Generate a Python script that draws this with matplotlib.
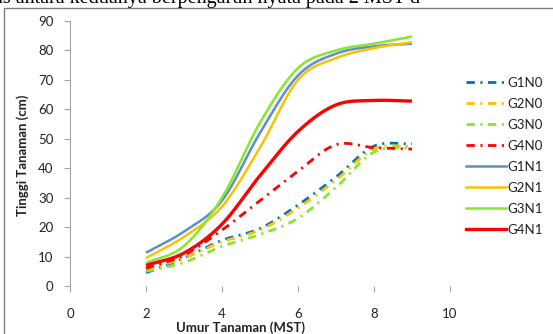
import numpy as np
import matplotlib
matplotlib.use("Agg")
import matplotlib.pyplot as plt
from matplotlib.lines import Line2D
from matplotlib.patches import Rectangle

plt.rcParams['font.family'] = ['Lato', 'DejaVu Sans']
plt.rcParams['lines.scale_dashes'] = False

weeks = [2, 3, 4, 5, 6, 7, 8, 9]
series_names = ["G1N0", "G2N0", "G3N0", "G4N0", "G1N1", "G2N1", "G3N1", "G4N1"]
G1N0 = [4.5, 9.5, 15.5, 19.5, 27.5, 37.0, 47.5, 48.3]
G2N0 = [5.5, 9.5, 15.0, 19.0, 26.5, 36.0, 46.5, 47.5]
G3N0 = [5.0, 8.0, 13.5, 17.5, 23.0, 33.5, 45.5, 47.0]
G4N0 = [6.0, 10.5, 19.0, 29.0, 39.0, 48.0, 47.0, 46.5]
G1N1 = [11.3, 18.5, 29.0, 52.0, 71.5, 78.9, 81.4, 82.3]
G2N1 = [9.5, 16.7, 27.0, 47.0, 70.0, 77.4, 80.8, 82.8]
G3N1 = [7.8, 13.6, 30.0, 55.5, 74.0, 80.0, 82.3, 84.7]
G4N1 = [7.0, 11.2, 21.0, 37.5, 52.5, 61.5, 63.0, 62.8]
values = [G1N0, G2N0, G3N0, G4N0, G1N1, G2N1, G3N1, G4N1]
x_ticks = [0, 2, 4, 6, 8, 10]
y_ticks = [0, 10, 20, 30, 40, 50, 60, 70, 80, 90]

colors = ['#0070C0', '#FFC000', '#88E62C', '#FF0000',
          '#5B8FD0', '#FFC000', '#88E62C', '#FF0000']
widths = [2.0, 2.0, 2.0, 2.0, 1.8, 1.8, 1.8, 2.4]
dashdot = (0, (6, 4, 1.5, 4))


def smooth(xs, ys, n=20):
    # Catmull-Rom style rendering (like Excel's "smoothed line")
    xs = np.asarray(xs, float); ys = np.asarray(ys, float)
    px = np.concatenate([[2*xs[0]-xs[1]], xs, [2*xs[-1]-xs[-2]]])
    py = np.concatenate([[2*ys[0]-ys[1]], ys, [2*ys[-1]-ys[-2]]])
    outx, outy = [], []
    t = np.linspace(0, 1, n, endpoint=False)
    for i in range(1, len(px)-2):
        for arr, out in ((px, outx), (py, outy)):
            p0, p1, p2, p3 = arr[i-1], arr[i], arr[i+1], arr[i+2]
            out.extend(0.5*((2*p1) + (-p0+p2)*t + (2*p0-5*p1+4*p2-p3)*t**2
                            + (-p0+3*p1-3*p2+p3)*t**3))
    outx.append(xs[-1]); outy.append(ys[-1])
    return np.array(outx), np.array(outy)


fig = plt.figure(figsize=(5.53, 3.34), dpi=100)
ax = fig.add_axes([70/553, 48/334, 380/553, 265/334])

handles = []
for name, ys, c, w in zip(series_names, values, colors, widths):
    sx, sy = smooth(weeks, ys)
    ls = dashdot if name.endswith("N0") else '-'
    ax.plot(sx, sy, color=c, lw=w, ls=ls, solid_capstyle='butt')
    handles.append(Line2D([], [], color=c, lw=w, ls=ls))

ax.set_xlim(0, 10)
ax.set_ylim(0, 90)
ax.set_xticks(x_ticks)
ax.set_yticks(y_ticks)
for s in ['top', 'right', 'bottom']:
    ax.spines[s].set_visible(False)
ax.spines['left'].set_color('#A6A6A6')
ax.tick_params(axis='both', colors='#A6A6A6', labelcolor='#222222',
               labelsize=9.5, length=4, direction='out')
ax.tick_params(axis='x', pad=12)
ax.tick_params(axis='y', pad=8)

fig.text(240/553, 1-328/334, "Umur Tanaman (MST)", ha='center', va='center',
         fontsize=9.5, fontweight='bold', color='#222222')
fig.text(23/553, 1-155/334, "Tinggi Tanaman (cm)", ha='center', va='center',
         rotation=90, fontsize=9.5, fontweight='bold', color='#222222')

leg = fig.legend(handles, series_names, loc='upper left',
                 bbox_to_anchor=(466/553, 1-77/334), frameon=False,
                 fontsize=9.5, handlelength=3.0, handletextpad=0.15,
                 labelspacing=0.68, borderpad=0, borderaxespad=0)
for t in leg.get_texts():
    t.set_color('#222222')

# outer frame of the embedded chart
fig.add_artist(Rectangle((4/553, -0.05), 1.0, 1-8/334+0.05,
                         transform=fig.transFigure, fill=False,
                         edgecolor='#808080', lw=1.0))
# cut-off text line of the surrounding document (only its lower part shows)
fig.text(-0.01, 1-3/334, "as antara keduanya berpengaruh nyata pada 2 MST d",
         ha='left', va='baseline', fontsize=14.5, family='Liberation Serif',
         color='black')

fig.savefig("out.png", dpi=100)
